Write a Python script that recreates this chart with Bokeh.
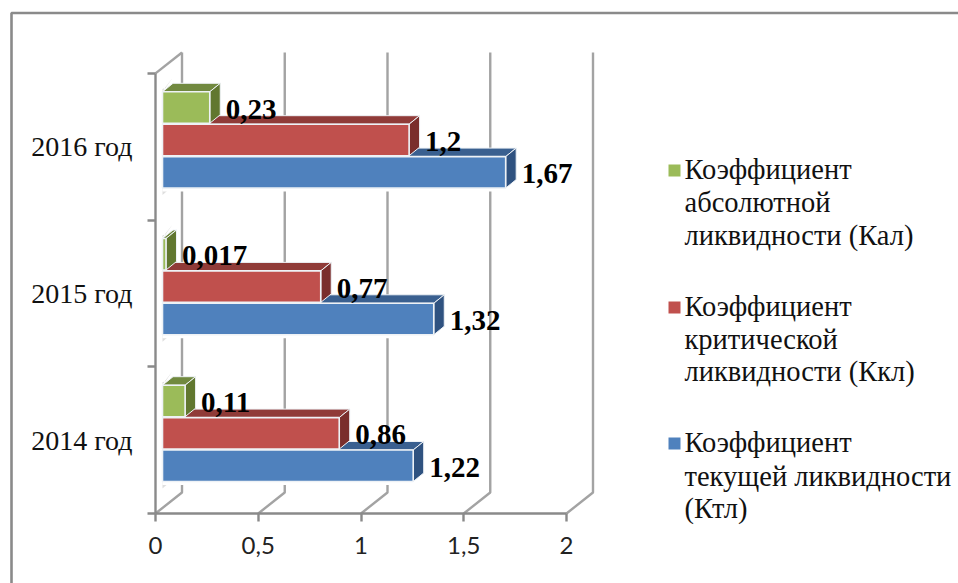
from bokeh.core.properties import value
from bokeh.embed import file_html
from bokeh.models import FixedTicker, LinearAxis, Range1d
from bokeh.plotting import figure
from bokeh.resources import INLINE

categories = ["2014 год", "2015 год", "2016 год"]
current_ratio = [1.22, 1.32, 1.67]
critical_ratio = [0.86, 0.77, 1.2]
absolute_ratio = [0.11, 0.017, 0.23]
current_labels = ["1,22", "1,32", "1,67"]
critical_labels = ["0,86", "0,77", "1,2"]
absolute_labels = ["0,11", "0,017", "0,23"]
x_ticks = [0, 0.5, 1, 1.5, 2]
x_tick_labels = ["0", "0,5", "1", "1,5", "2"]
legend_current = ["Коэффициент", "текущей ликвидности", "(Ктл)"]
legend_critical = ["Коэффициент", "критической", "ликвидности (Ккл)"]
legend_absolute = ["Коэффициент", "абсолютной", "ликвидности (Кал)"]

W, H = 958, 583
X0_PX, Y0_PX = 155, 513        # origin of the front axes on the page
PX_PER_X, PX_PER_CAT = 205.5, 146.7
SERIF = "Times New Roman"


def dx(px):
    return px / PX_PER_X


def dy(px):
    return px / PX_PER_CAT


def sx(px):
    return (px - X0_PX) / PX_PER_X


def sy(px):
    return (Y0_PX - px) / PX_PER_CAT


p = figure(
    width=W, height=H, output_backend="svg", toolbar_location=None,
    x_axis_type=None, y_axis_type=None, min_border=0,
    x_range=Range1d(sx(0), sx(W)), y_range=Range1d(sy(H), sy(0)),
)
p.grid.visible = False
p.outline_line_color = None
p.background_fill_color = "white"

# outer chart border
p.line([sx(11), sx(11), sx(W)], [sy(H), sy(12.5), sy(12.5)],
       line_color="#8a8a8a", line_width=2.6)

# 3D walls: back gridlines and floor diagonals
WALL_X, WALL_Y = dx(26.5), dy(21)
n_cat = len(categories)
grid_color = "#a3a3a3"
for t in x_ticks:
    p.line([t, t + WALL_X, t + WALL_X], [0, WALL_Y, sy(52)],
           line_color=grid_color, line_width=2.4)
p.line([0, WALL_X], [n_cat, sy(52)], line_color=grid_color, line_width=2.4)

# axes placed at the origin of the plot
x_axis = LinearAxis(
    fixed_location=0, ticker=FixedTicker(ticks=x_ticks),
    major_label_overrides=dict(zip(x_ticks, x_tick_labels)),
    axis_line_color="#8a8a8a", axis_line_width=2.4, bounds=(0, 2),
    major_tick_line_color="#8a8a8a", major_tick_line_width=2.4,
    major_tick_in=0, major_tick_out=8, minor_tick_line_color=None,
    major_label_text_font="Lato", major_label_text_font_size="24px",
    major_label_text_color="#222222", major_label_standoff=15,
)
p.add_layout(x_axis, "below")

# category labels sit between the tick marks, which mark the category edges
centres = [i + 0.5 for i in range(n_cat)]
y_axis = LinearAxis(
    fixed_location=0,
    ticker=FixedTicker(ticks=centres, minor_ticks=list(range(n_cat + 1))),
    major_label_overrides=dict(zip(centres, categories)),
    axis_line_color="#8a8a8a", axis_line_width=2.4, bounds=(0, n_cat),
    major_tick_line_color=None, major_tick_in=0, major_tick_out=0,
    minor_tick_line_color="#8a8a8a", minor_tick_line_width=2.4,
    minor_tick_in=0, minor_tick_out=8,
    major_label_text_font=SERIF, major_label_text_font_size="28px",
    major_label_text_color="#111111", major_label_standoff=15,
)
p.add_layout(y_axis, "left")

# horizontal 3D bars, drawn bottom series first so upper bars sit on lower ones
BAR_X0 = dx(7)
BAR_H = dy(31.5)
BAR_FIRST = dy(32)
DEPTH_X, DEPTH_Y = dx(10.5), dy(8.5)
series = [
    (current_ratio, current_labels, "#4f81bd", "#2f5280", "#3a6090"),
    (critical_ratio, critical_labels, "#c0504d", "#7a2e2c", "#903b38"),
    (absolute_ratio, absolute_labels, "#9bbb59", "#61772f", "#71893f"),
]
edge = "#eef2f6"

# faint shadows at the ends of each bar group
for i in range(n_cat):
    y_low = i + BAR_FIRST
    y_high = y_low + 3 * dy(32.4)
    p.patch([BAR_X0, BAR_X0 + dx(10), BAR_X0 + dx(3), BAR_X0],
            [y_high, y_high + dy(13), y_high + dy(3), y_high + dy(2)],
            fill_color="#c4c4c4", fill_alpha=0.7, line_color=None)
    p.patch([BAR_X0, BAR_X0 + dx(8), BAR_X0],
            [y_low, y_low, y_low - dy(7)],
            fill_color="#d0d0d0", fill_alpha=0.7, line_color=None)

label_x, label_y, label_text = [], [], []
for i in range(n_cat):
    for s, (vals, texts, front, side, top) in enumerate(series):
        y1 = i + BAR_FIRST + s * dy(32.4)
        y2 = y1 + BAR_H
        x2 = BAR_X0 + vals[i]
        if s == 0:
            # white halo that interrupts the wall lines under the bar
            p.quad(left=BAR_X0, right=x2 + DEPTH_X, bottom=y1 - dy(3.5), top=y1,
                   fill_color="white", line_color=None)
        p.patch([BAR_X0, BAR_X0 + DEPTH_X, x2 + DEPTH_X, x2],
                [y2, y2 + DEPTH_Y, y2 + DEPTH_Y, y2],
                fill_color=top, line_color=edge, line_width=1)
        p.patch([x2, x2 + DEPTH_X, x2 + DEPTH_X, x2],
                [y1, y1 + DEPTH_Y, y2 + DEPTH_Y, y2],
                fill_color=side, line_color=edge, line_width=1)
        p.quad(left=BAR_X0, right=x2, bottom=y1, top=y2,
               fill_color=front, line_color=edge, line_width=1.6)
        label_x.append(x2 + dx(16))
        label_y.append((y1 + y2) / 2 - dy(1.5))
        label_text.append(texts[i])

p.text(label_x, label_y, text=label_text,
       text_font=value(SERIF), text_font_style="bold",
       text_font_size="29px", text_color="black",
       text_align="left", text_baseline="middle")

# legend
legend_rows = [
    (legend_absolute, "#9bbb59", [170, 203, 236]),
    (legend_critical, "#c0504d", [307, 340, 372]),
    (legend_current, "#4f81bd", [443, 477, 509]),
]
for lines, colour, rows in legend_rows:
    p.scatter([sx(674)], [sy(rows[0])], marker="square", size=12,
              fill_color=colour, line_color=None)
    p.text([sx(684)] * len(lines), [sy(r - 1) for r in rows], text=lines,
           text_font=value(SERIF), text_font_size="28.5px",
           text_color="#111111", text_align="left", text_baseline="middle")

open("out.html", "w").write(file_html(p, INLINE))
